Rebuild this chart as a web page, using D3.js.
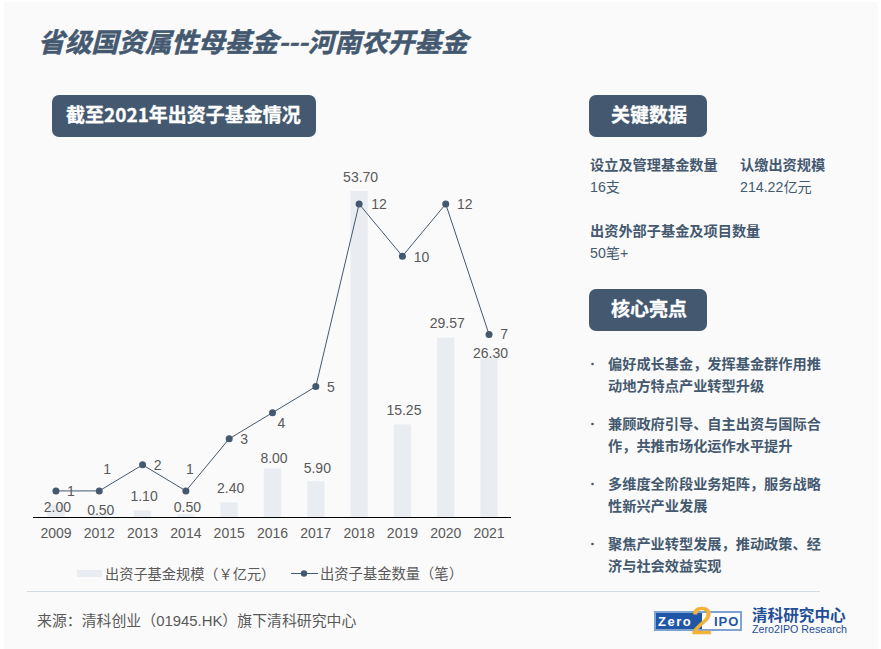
<!DOCTYPE html>
<html>
<head>
<meta charset="utf-8">
<script src="https://cdn.jsdelivr.net/npm/d3@7"></script>
<style>
  html, body { margin: 0; padding: 0; background: #fff; }
  text { font-family: "Liberation Sans", "Noto Sans CJK SC", sans-serif; }
  .head { font-family: "Noto Sans CJK SC", sans-serif; font-weight: 700; }
</style>
</head>
<body>
<svg id="chart" width="881" height="649"></svg>
<script>
let years = ['2009', '2012', '2013', '2014', '2015', '2016', '2017', '2018', '2019', '2020', '2021']
let fundSize = [2.00, 0.50, 1.10, 0.50, 2.40, 8.00, 5.90, 53.70, 15.25, 29.57, 26.30]
let fundCount = [1, 1, 2, 1, 3, 4, 5, 12, 10, 12, 7]

let keyStats = [
  ['设立及管理基金数量', '16支'],
  ['认缴出资规模', '214.22亿元'],
  ['出资外部子基金及项目数量', '50笔+']
]
let highlights = [
  ['偏好成长基金，发挥基金群作用推', '动地方特点产业转型升级'],
  ['兼顾政府引导、自主出资与国际合', '作，共推市场化运作水平提升'],
  ['多维度全阶段业务矩阵，服务战略', '性新兴产业发展'],
  ['聚焦产业转型发展，推动政策、经', '济与社会效益实现']
]

let navy = '#44596f'
let grey = '#595959'
let barColor = '#e9edf2'

let svg = d3.select('#chart')

svg.append('rect').attr('x', 4).attr('y', 2).attr('width', 874).attr('height', 647).attr('fill', '#fafafa')

svg.append('text')
  .attr('class', 'head')
  .attr('x', 38).attr('y', 52)
  .attr('font-size', 26.7).attr('font-style', 'italic')
  .attr('fill', navy).attr('stroke', navy).attr('stroke-width', 0.5)
  .text('省级国资属性母基金---河南农开基金')

function badge(x, y, w, label, tx, size) {
  svg.append('rect')
    .attr('x', x).attr('y', y).attr('width', w).attr('height', 42).attr('rx', 7)
    .attr('fill', navy)
  svg.append('text')
    .attr('class', 'head')
    .attr('x', tx).attr('y', y + 27)
    .attr('font-size', size)
    .attr('fill', '#fff').attr('stroke', '#fff').attr('stroke-width', 0.3)
    .text(label)
}
badge(52, 95, 264, '截至2021年出资子基金情况', 66, 19)
badge(589, 95, 118, '关键数据', 611, 19)
badge(589, 289, 118, '核心亮点', 611, 19)

// chart
let x = d3.scaleBand().domain(years).range([34.3, 510.7]).paddingInner(0.6).paddingOuter(0.3)
let yBar = d3.scaleLinear().domain([0, 53.7]).range([517, 191])
let yLine = d3.scaleLinear().domain([0, 12]).range([517, 204])
let cx = d => x(d) + x.bandwidth() / 2

svg.selectAll('.bar')
  .data(years)
  .enter().append('rect')
  .attr('class', 'bar')
  .attr('x', d => x(d))
  .attr('width', x.bandwidth())
  .attr('y', (d, i) => yBar(fundSize[i]))
  .attr('height', (d, i) => 517 - yBar(fundSize[i]))
  .attr('fill', barColor)

let axis = svg.append('g')
  .attr('transform', 'translate(0,517)')
  .call(d3.axisBottom(x).tickSize(0).tickPadding(11))
axis.select('.domain').attr('stroke', '#000').attr('stroke-width', 1).attr('d', 'M33,0.5H511')
axis.selectAll('text')
  .attr('font-size', 14).attr('font-family', '"Liberation Sans", sans-serif')
  .attr('fill', grey)

// labels that were moved by hand in the original, the small bars mostly
let barNudge = { 2009: 16, 2012: 10, 2014: 7, 2016: 3.5, 2017: 1, 2021: 10 }

svg.selectAll('.bar-label')
  .data(years)
  .enter().append('text')
  .attr('class', 'bar-label')
  .attr('x', d => cx(d) + 1.5)
  .attr('y', (d, i) => yBar(fundSize[i]) - 9 + (barNudge[d] || 0))
  .attr('text-anchor', 'middle')
  .attr('font-size', 14)
  .attr('fill', grey)
  .text((d, i) => fundSize[i].toFixed(2))

let line = d3.line()
  .x(d => cx(d))
  .y((d, i) => yLine(fundCount[i]))

svg.append('path')
  .datum(years)
  .attr('d', line)
  .attr('fill', 'none')
  .attr('stroke', navy)
  .attr('stroke-width', 1)

svg.selectAll('.dot')
  .data(years)
  .enter().append('circle')
  .attr('class', 'dot')
  .attr('cx', d => cx(d))
  .attr('cy', (d, i) => yLine(fundCount[i]))
  .attr('r', 3.5)
  .attr('fill', navy)

// offset of each count label from its point, [dx, dy]
let countOffset = {
  2012: [8, -17], 2014: [4, -17], 2016: [9, 15], 2018: [20, 5], 2019: [19, 6], 2020: [19, 5]
}

svg.selectAll('.count-label')
  .data(years)
  .enter().append('text')
  .attr('class', 'count-label')
  .attr('x', d => cx(d) + (countOffset[d] ? countOffset[d][0] : 15))
  .attr('y', (d, i) => yLine(fundCount[i]) + (countOffset[d] ? countOffset[d][1] : 5))
  .attr('text-anchor', 'middle')
  .attr('font-size', 14)
  .attr('fill', grey)
  .text((d, i) => fundCount[i])

// legend
svg.append('rect').attr('x', 77).attr('y', 570).attr('width', 25).attr('height', 7).attr('fill', barColor)
svg.append('text').attr('x', 105).attr('y', 579).attr('font-size', 14.2).attr('fill', grey).text('出资子基金规模（￥亿元）')
svg.append('line').attr('x1', 291).attr('x2', 318).attr('y1', 573.5).attr('y2', 573.5).attr('stroke', navy).attr('stroke-width', 1)
svg.append('circle').attr('cx', 304).attr('cy', 573.5).attr('r', 3.2).attr('fill', navy)
svg.append('text').attr('x', 320).attr('y', 579).attr('font-size', 14.3).attr('fill', grey).text('出资子基金数量（笔）')

// key stats
let statPos = [[590, 170], [740, 170], [590, 236]]
keyStats.forEach((d, i) => {
  svg.append('text')
    .attr('x', statPos[i][0]).attr('y', statPos[i][1])
    .attr('font-size', 14.2).attr('font-weight', 700)
    .attr('fill', navy)
    .text(d[0])
  svg.append('text')
    .attr('x', statPos[i][0]).attr('y', statPos[i][1] + 22)
    .attr('font-size', 14.2)
    .attr('fill', navy)
    .text(d[1])
})

// highlights
highlights.forEach((d, i) => {
  let top = 369 + i * 60
  svg.append('circle').attr('cx', 592.5).attr('cy', top - 5).attr('r', 1.3).attr('fill', navy)
  d.forEach((t, j) => {
    svg.append('text')
      .attr('x', 608).attr('y', top + j * 22)
      .attr('font-size', 14.2).attr('font-weight', 700)
      .attr('fill', navy)
      .text(t)
  })
})

// footer
svg.append('line').attr('x1', 27).attr('x2', 820).attr('y1', 591.5).attr('y2', 591.5).attr('stroke', '#d3dbe5')
svg.append('text').attr('x', 37).attr('y', 626).attr('font-size', 14.9).attr('fill', grey).text('来源：清科创业（01945.HK）旗下清科研究中心')

// logo
let logo = svg.append('g')
logo.append('rect').attr('x', 654).attr('y', 611).attr('width', 88).attr('height', 20).attr('fill', '#7fa3d1')
logo.append('rect').attr('x', 656).attr('y', 613).attr('width', 46).attr('height', 16).attr('fill', '#1f56a8')
logo.append('rect').attr('x', 702).attr('y', 613).attr('width', 38).attr('height', 16).attr('fill', '#fff')
logo.append('text').attr('x', 658).attr('y', 626).attr('font-family', '"DejaVu Sans Mono", monospace').attr('font-size', 13).attr('font-weight', 700).attr('letter-spacing', 1.5).attr('fill', '#fff').text('Zero')
logo.append('text').attr('x', 691).attr('y', 634).attr('font-size', 39).attr('fill', '#f2b233').attr('stroke', '#f2b233').attr('stroke-width', 0.6).text('2')
logo.append('text').attr('x', 714).attr('y', 626).attr('font-family', '"DejaVu Sans Mono", monospace').attr('font-size', 13).attr('font-weight', 700).attr('letter-spacing', 1).attr('fill', '#1f56a8').text('IPO')
logo.append('text').attr('x', 752).attr('y', 621).attr('font-size', 15.6).attr('font-weight', 700).attr('fill', '#1f4e96').text('清科研究中心')
logo.append('text').attr('x', 752).attr('y', 633).attr('font-size', 10.7).attr('fill', '#1f4e96').text('Zero2IPO Research')
</script>
</body>
</html>
